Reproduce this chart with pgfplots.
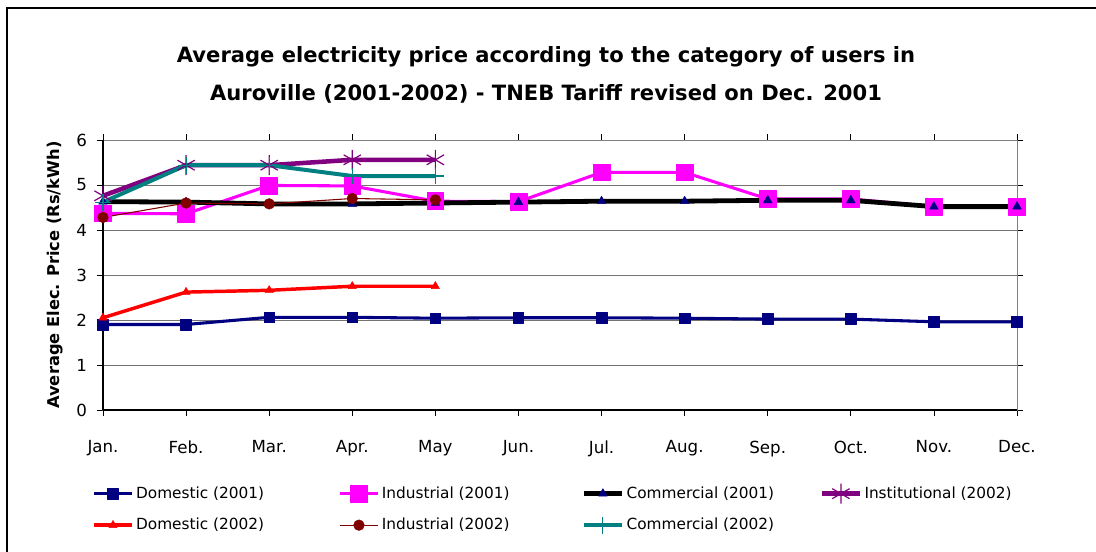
\documentclass[border=0pt]{standalone}
\usepackage{pgfplots}
\pgfplotsset{compat=1.18}
\usepackage{fontspec}
\setmainfont{DejaVu Sans}
\definecolor{cnavy}{RGB}{0,0,128}
\definecolor{cmag}{RGB}{255,0,255}
\definecolor{cpurp}{RGB}{128,0,128}
\definecolor{cteal}{RGB}{0,128,128}
\definecolor{cdred}{RGB}{128,0,0}
\definecolor{cred}{RGB}{255,0,0}
\begin{document}
\begin{tikzpicture}
\useasboundingbox (0,0) rectangle (822pt,-414pt);
\draw[line width=1.6pt] (5.25pt,-414pt) -- (5.25pt,-6pt) -- (822pt,-6pt);
\node[font=\bfseries\fontsize{15.8}{28.5}\selectfont, align=center] at (409.5pt,-56.5pt)
  {Average electricity price according to the category of users in\\Auroville (2001-2002) - TNEB Tariff revised on Dec. 2001};
\begin{axis}[
  at={(77.25pt,-307.5pt)}, anchor=south west,
  scale only axis, width=685.5pt, height=202.5pt,
  xmin=0, xmax=11, ymin=0, ymax=6,
  xtick={0,...,11},
  xticklabels={Jan.,Feb.,Mar.,Apr.,May,Jun.,Jul.,Aug.,Sep.,Oct.,Nov.,Dec.},
  ytick={0,...,6},
  tick align=outside,
  major tick length=4.5pt,
  tick style={black, line width=0.6pt},
  ymajorgrids,
  grid style={black!55, line width=0.75pt},
  axis line style={black!50, line width=0.75pt},
  clip=false,
  /pgf/number format/assume math mode=true,
  tick label style={font=\fontsize{12.5}{14}\selectfont},
  xticklabel style={yshift=-15pt},
  yticklabel style={xshift=-4pt},
  ylabel={Average Elec. Price (Rs/kWh)},
  ylabel style={at={(axis description cs:-0.0525,0.5)}, anchor=center, font=\bfseries\fontsize{12.2}{14}\selectfont},
  legend columns=4,
  legend style={at={(axis description cs:-0.016,-0.262)}, anchor=north west, draw=none, fill=none,
    font=\fontsize{11.5}{13}\selectfont, row sep=9pt, cells={anchor=west}},
  legend image code/.code={\draw[mark repeat=2,mark phase=2] plot coordinates {(0pt,0pt) (14pt,0pt) (28pt,0pt)};},
  line join=round,
]
% Domestic (2001)
\addplot[cnavy, line width=2.3pt, mark=square*, mark size=4pt, mark options={solid, line width=0.5pt, fill=cnavy}]
  coordinates {(0,1.90) (1,1.90) (2,2.06) (3,2.06) (4,2.04) (5,2.05) (6,2.05) (7,2.04) (8,2.02) (9,2.02) (10,1.96) (11,1.96)};
\addlegendentry{\makebox[150pt][l]{Domestic (2001)}}
% Industrial (2001)
\addplot[cmag, line width=2.3pt, mark=square*, mark size=6.3pt, mark options={solid, line width=0.5pt, fill=cmag}]
  coordinates {(0,4.37) (1,4.36) (2,4.99) (3,4.98) (4,4.64) (5,4.63) (6,5.28) (7,5.28) (8,4.69) (9,4.69) (10,4.52) (11,4.52)};
\addlegendentry{\makebox[148pt][l]{Industrial (2001)}}
% Commercial (2001)
\addplot[black, line width=3.6pt, mark=triangle*, mark size=3.8pt, mark options={solid, line width=0.3pt, draw=cnavy, fill=cnavy}]
  coordinates {(0,4.63) (1,4.62) (2,4.58) (3,4.58) (4,4.60) (5,4.62) (6,4.64) (7,4.64) (8,4.66) (9,4.66) (10,4.52) (11,4.52)};
\addlegendentry{\makebox[143pt][l]{Commercial (2001)}}
% Institutional (2002)
\addplot[cpurp, line width=3.4pt, mark=asterisk, mark size=7.5pt, mark options={solid, line width=0.9pt}]
  coordinates {(0,4.76) (1,5.44) (2,5.44) (3,5.56) (4,5.56)};
\addlegendentry{Institutional (2002)}
% Domestic (2002)
\addplot[cred, line width=2.6pt, mark=triangle*, mark size=3.6pt, mark options={solid, line width=0.3pt, fill=cred}]
  coordinates {(0,2.05) (1,2.62) (2,2.66) (3,2.75) (4,2.75)};
\addlegendentry{\makebox[150pt][l]{Domestic (2002)}}
% Industrial (2002)
\addplot[cdred, line width=0.8pt, mark=*, mark size=4pt, mark options={solid, line width=0.4pt, fill=cdred}]
  coordinates {(0,4.28) (1,4.60) (2,4.58) (3,4.70) (4,4.67)};
\addlegendentry{\makebox[148pt][l]{Industrial (2002)}}
% Commercial (2002)
\addplot[cteal, line width=3pt, mark=+, mark size=6.3pt, mark options={solid, line width=0.8pt}]
  coordinates {(0,4.62) (1,5.44) (2,5.44) (3,5.20) (4,5.20)};
\addlegendentry{\makebox[143pt][l]{Commercial (2002)}}
\draw[black, line width=0.9pt] (rel axis cs:0,1) -- (rel axis cs:0,0) -- (rel axis cs:1,0);
\end{axis}
\end{tikzpicture}
\end{document}
